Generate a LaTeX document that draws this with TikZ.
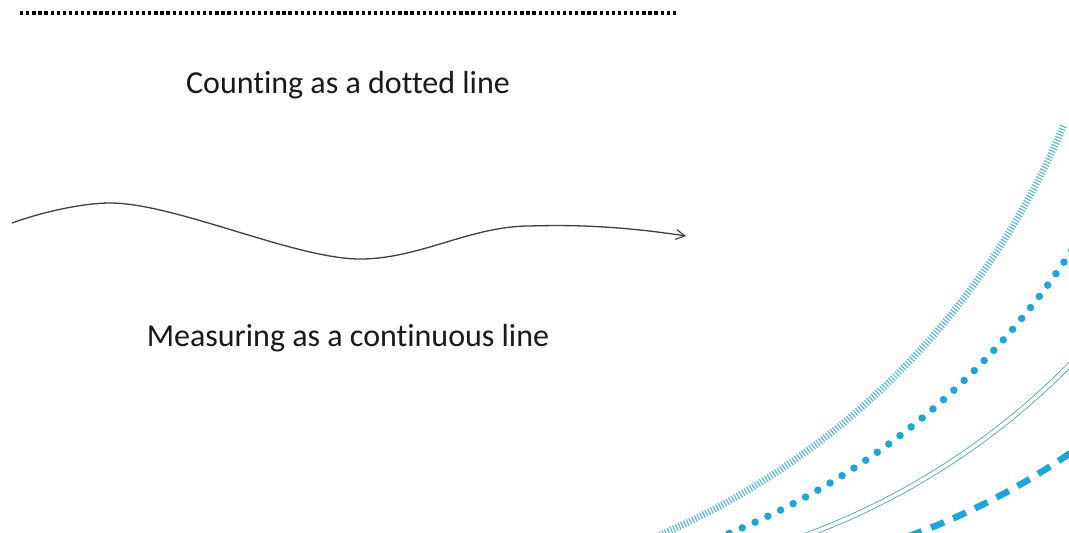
\documentclass[tikz,border=0pt]{standalone}
\usepackage{fontspec}
\setmainfont{Carlito}[Ligatures={NoCommon}]
\usetikzlibrary{arrows.meta}

\definecolor{inkgray}{HTML}{404040}
\definecolor{hatchblue}{RGB}{95,185,212}
\definecolor{dotblue}{RGB}{28,167,214}
\definecolor{tealline}{RGB}{72,158,165}

\tikzset{
  caption/.style={anchor=base, inner sep=0pt, text=black!90,
    font=\fontsize{32}{38}\selectfont},
  countline/.style={line width=3.2, dash pattern=on 3.3 off 2.8, black},
  measureline/.style={line width=1.3, inkgray,
    -{Straight Barb[length=9, width=10, line width=1.1]}},
  hatcharc/.style={line width=7, hatchblue, dash pattern=on 1.2 off 1.8},
  dotarc/.style={line width=7.5, dotblue, line cap=round, dash pattern=on 0 off 14.1},
  doublearc/.style={line width=0.8, tealline, double=white, double distance=3.7},
  dasharc/.style={line width=6.5, dotblue, dash pattern=on 14 off 10}
}

\begin{document}
\begin{tikzpicture}[x=1pt, y=-1pt]
  \useasboundingbox[fill=white] (0,0) rectangle (1069,533);

  % counting: a row of discrete dots
  \coordinate (cstart) at (20,13);
  \coordinate (cend) at (676,13);
  \draw[countline] (cstart) -- (cend);

  \node[caption] (counting) at (348,93) {Counting as a dotted line};

  % measuring: a smooth continuous curve
  \coordinate (mstart) at (12,223);
  \coordinate (mpeak) at (110,203);
  \coordinate (mtrough) at (360,259);
  \coordinate (mhump) at (530,226);
  \coordinate (mend) at (686,236);
  \draw[measureline] (mstart)
    .. controls (45,211) and (85,203) .. (mpeak)
    .. controls (175,203) and (295,259) .. (mtrough)
    .. controls (420,259) and (470,226) .. (mhump)
    .. controls (590,224) and (640,229) .. (mend);

  \node[caption] (measuring) at (348,346) {Measuring as a continuous line};

  % decorative arcs in the lower right corner
  \begin{scope}
    \clip (0,0) rectangle (1069,533);
    \draw[hatcharc] (356,-168) ++(70:766) arc[start angle=70, end angle=22.5, radius=766];
    \draw[dotarc] (448.6,-155.2) ++(70:743.5) arc[start angle=70, end angle=30, radius=743.5];
    \draw[doublearc] (554,-144) ++(72:724.5) arc[start angle=72, end angle=40, radius=724.5];
    \draw[dasharc] (665,-136) ++(72:715) arc[start angle=72, end angle=50, radius=715];
  \end{scope}
\end{tikzpicture}
\end{document}
